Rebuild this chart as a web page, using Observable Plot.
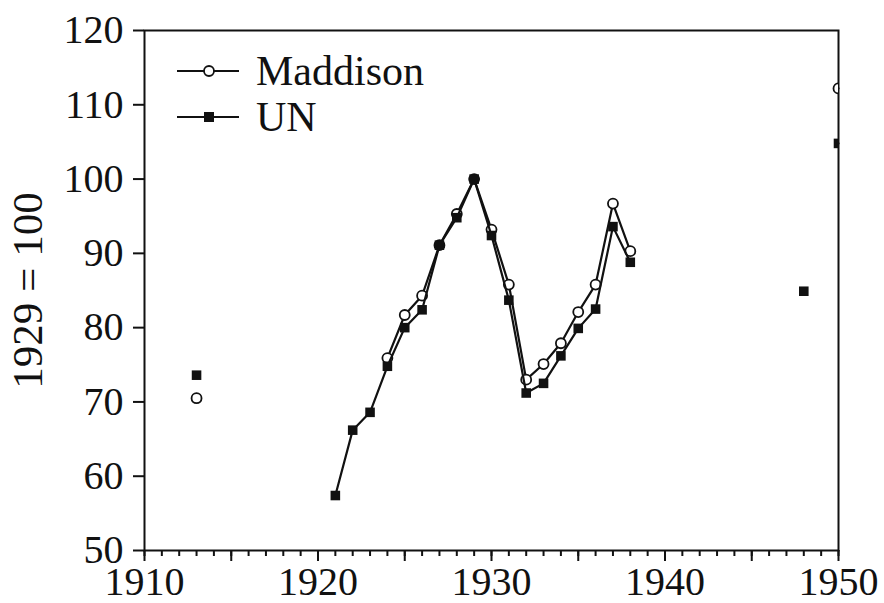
<!DOCTYPE html>
<html>
<head>
<meta charset="utf-8">
<script src="https://cdn.jsdelivr.net/npm/d3@7"></script>
<script src="https://cdn.jsdelivr.net/npm/@observablehq/plot@0.6"></script>
<style>
  body { margin: 0; background: #fff; }
  #wrap { position: relative; width: 884px; height: 603px; font-family: "Liberation Serif", serif; color: #111; }
  #legend { position: absolute; left: 176px; top: 48px; font-size: 42px; line-height: 46px; }
  #legend .row { display: flex; align-items: center; height: 46px; }
  #legend svg { margin-right: 16px; }
</style>
</head>
<body>
<div id="wrap"><div id="legend"></div></div>
<script>
// Index of output, 1929 = 100
const maddisonYears = [1913, 1924, 1925, 1926, 1927, 1928, 1929, 1930, 1931, 1932, 1933, 1934, 1935, 1936, 1937, 1938, 1950];
const maddisonValues = [70.5, 75.9, 81.7, 84.3, 91.1, 95.3, 100, 93.2, 85.8, 73.0, 75.1, 77.9, 82.1, 85.8, 96.7, 90.3, 112.2];

const unYears = [1913, 1921, 1922, 1923, 1924, 1925, 1926, 1927, 1928, 1929, 1930, 1931, 1932, 1933, 1934, 1935, 1936, 1937, 1938, 1948, 1950];
const unValues = [73.6, 57.4, 66.2, 68.6, 74.8, 80.0, 82.4, 91.1, 94.8, 100, 92.4, 83.7, 71.2, 72.5, 76.2, 79.9, 82.5, 93.6, 88.8, 84.9, 104.8];

const yTicks = [50, 60, 70, 80, 90, 100, 110, 120];
const xLabelTicks = [1910, 1920, 1930, 1940, 1950];
const seriesNames = ["Maddison", "UN"];

// Build rows; consecutive years share a run id so lines break across gaps
function rows(years, values) {
  let run = 0;
  return years.map((year, i) => {
    if (i > 0 && year !== years[i - 1] + 1) run++;
    return {year, value: values[i], run};
  });
}
const maddison = rows(maddisonYears, maddisonValues);
const un = rows(unYears, unValues);

const fontFamily = '"Liberation Serif", serif';

const chart = Plot.plot({
  width: 884,
  height: 603,
  marginLeft: 144,
  marginRight: 46,
  marginTop: 30,
  marginBottom: 53,
  style: {fontFamily, fontSize: "40px", color: "#111", background: "#fff"},
  x: {domain: [1910, 1950]},
  y: {domain: [50, 120]},
  marks: [
    Plot.frame({stroke: "#111", strokeWidth: 2}),
    // minor yearly ticks
    Plot.axisX({ticks: d3.range(1910, 1951, 1), tickSize: 6, tickFormat: () => "", label: null, strokeWidth: 2}),
    // major five-year ticks, labelled every ten years
    Plot.axisX({ticks: d3.range(1910, 1951, 5), tickSize: 11, tickPadding: 5,
      tickFormat: d => xLabelTicks.includes(d) ? String(d) : "", label: null, strokeWidth: 2,
      fontSize: 40, fontFamily}),
    Plot.axisY({ticks: yTicks, tickSize: 11, tickPadding: 10, label: null, strokeWidth: 2,
      fontSize: 40, fontFamily}),
    Plot.text(["1929 = 100"], {frameAnchor: "left", textAnchor: "middle", rotate: -90, dx: -116,
      fontSize: 43, fontFamily, fill: "#111"}),
    // Maddison
    Plot.line(maddison, {x: "year", y: "value", z: "run", stroke: "#111", strokeWidth: 2.2}),
    Plot.dot(maddison, {x: "year", y: "value", r: 5, fill: "#fff", stroke: "#111", strokeWidth: 1.8, clip: "frame"}),
    // UN
    Plot.line(un, {x: "year", y: "value", z: "run", stroke: "#111", strokeWidth: 2.2}),
    Plot.dot(un, {x: "year", y: "value", symbol: "square", r: 5.4, fill: "#111", stroke: "none", clip: "frame"})
  ]
});
document.getElementById("wrap").prepend(chart);

// Legend: line with marker, then series name
const legend = d3.select("#legend");
seriesNames.forEach((name, i) => {
  const row = legend.append("div").attr("class", "row");
  const s = row.append("svg").attr("width", 64).attr("height", 20);
  s.append("line").attr("x1", 1).attr("x2", 63).attr("y1", 10).attr("y2", 10).attr("stroke", "#111").attr("stroke-width", 2);
  if (i === 0) {
    s.append("circle").attr("cx", 33).attr("cy", 10).attr("r", 5).attr("fill", "#fff").attr("stroke", "#111").attr("stroke-width", 1.8);
  } else {
    s.append("rect").attr("x", 28).attr("y", 5).attr("width", 10).attr("height", 10).attr("fill", "#111");
  }
  row.append("span").text(name);
});
</script>
</body>
</html>
